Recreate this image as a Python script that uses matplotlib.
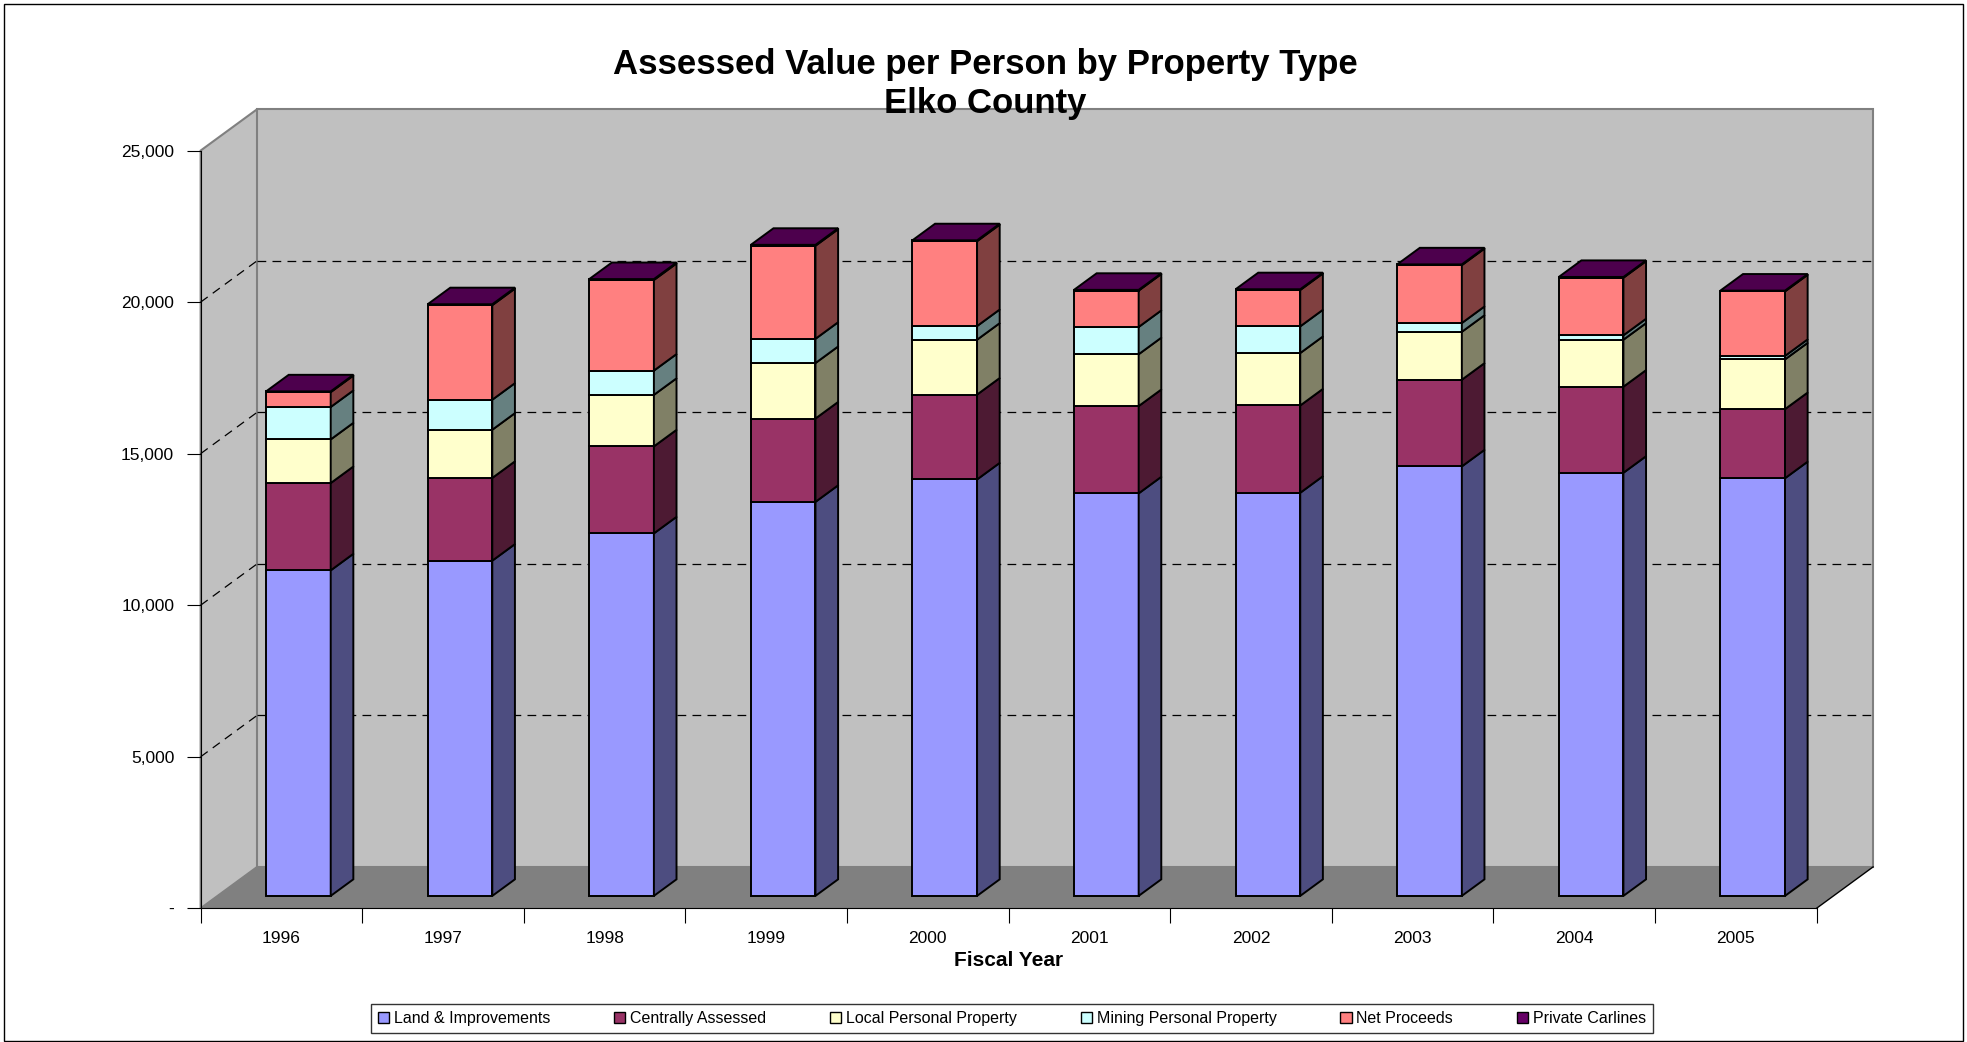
import numpy as np
import matplotlib.pyplot as plt
from matplotlib.patches import Polygon, Patch, Rectangle
from matplotlib.colors import to_rgb

plt.rcParams['font.family'] = ['Liberation Sans', 'DejaVu Sans']

# assessed value per person, by fiscal year
years = ['1996', '1997', '1998', '1999', '2000', '2001', '2002', '2003', '2004', '2005']
land = [10740, 11060, 11960, 13000, 13740, 13280, 13300, 14170, 13960, 13780]
central = [2880, 2730, 2870, 2750, 2800, 2880, 2880, 2860, 2840, 2280]
local_pp = [1440, 1590, 1700, 1830, 1810, 1710, 1730, 1580, 1550, 1640]
mining_pp = [1070, 990, 800, 800, 450, 900, 880, 290, 145, 115]
net_proceeds = [490, 3120, 2990, 3070, 2800, 1200, 1200, 1910, 1900, 2130]
carlines = [25, 30, 30, 30, 30, 25, 25, 25, 25, 25]

labels = ['Land & Improvements', 'Centrally Assessed', 'Local Personal Property',
          'Mining Personal Property', 'Net Proceeds', 'Private Carlines']
colors = ['#9999FF', '#993366', '#FFFFCC', '#CCFFFF', '#FF8080', '#660066']
data = [land, central, local_pp, mining_pp, net_proceeds, carlines]

ymax = 25000
dx, dy = 0.35, 1366      # depth of the box, in x units / value units
d0, d1 = 0.3, 0.7        # bars sit between these depth fractions
bw = 0.4


def shade(c, f):
    return tuple(np.array(to_rgb(c)) * f)


fig = plt.figure(figsize=(19.67, 10.42), dpi=100)
ax = fig.add_axes([0.1020, 0.1283, 0.8215, 0.7272])
ax.set_facecolor('none')
n = len(years)
x = np.arange(n) + 0.5

# walls and floor
ax.add_patch(Polygon([(0, 0), (0, ymax), (dx, ymax + dy), (dx, dy)], closed=True,
                     fc='#C0C0C0', ec='#808080', lw=1.5, clip_on=False, zorder=0))
ax.add_patch(Rectangle((dx, dy), n, ymax, fc='#C0C0C0', ec='#808080', lw=1.5,
                       clip_on=False, zorder=0))
ax.add_patch(Polygon([(0, 0), (dx, dy), (n + dx, dy), (n, 0)], closed=True,
                     fc='#808080', ec='none', clip_on=False, zorder=0.5))
ax.plot([n, n + dx], [0, dy], color='black', lw=1, clip_on=False, zorder=1)

# dashed gridlines on the side and back walls
for v in [5000, 10000, 15000, 20000]:
    ax.plot([dx, n + dx], [v + dy, v + dy], color='black', lw=0.9,
            ls=(0, (7, 5)), clip_on=False, zorder=1)
    ax.plot([0, dx], [v, v + dy], color='black', lw=0.9,
            ls=(0, (7, 5)), clip_on=False, zorder=1)

# stacked boxes: front faces via bar, side and top faces as polygons
base = np.zeros(n)
for vals, col in zip(data, colors):
    vals = np.array(vals, dtype=float)
    ax.bar(x + d0 * dx, vals, bw, bottom=base + d0 * dy, color=col,
           edgecolor='black', lw=1.4, zorder=3, clip_on=False)
    for i in range(n):
        xr = x[i] + bw / 2 + d0 * dx
        y0, y1 = base[i], base[i] + vals[i]
        side = [(xr, y0 + d0 * dy), (xr + (d1 - d0) * dx, y0 + d1 * dy),
                (xr + (d1 - d0) * dx, y1 + d1 * dy), (xr, y1 + d0 * dy)]
        ax.add_patch(Polygon(side, closed=True, fc=shade(col, 0.5), ec='black',
                             lw=1.4, zorder=3, clip_on=False))
    base = base + vals

for i in range(n):
    xl = x[i] - bw / 2 + d0 * dx
    xr = x[i] + bw / 2 + d0 * dx
    t = base[i]
    top = [(xl, t + d0 * dy), (xr, t + d0 * dy),
           (xr + (d1 - d0) * dx, t + d1 * dy), (xl + (d1 - d0) * dx, t + d1 * dy)]
    ax.add_patch(Polygon(top, closed=True, fc=shade(colors[-1], 0.75), ec='black',
                         lw=1.4, zorder=3, clip_on=False))

ax.set_xlim(0, n)
ax.set_ylim(0, ymax)
for s in ['top', 'right']:
    ax.spines[s].set_visible(False)
ax.spines['left'].set_color('black')
ax.spines['bottom'].set_color('black')
ax.spines['left'].set_zorder(4)
ax.spines['bottom'].set_zorder(4)

ax.set_yticks(np.arange(0, ymax + 1, 5000))
ax.set_yticklabels(['-' if v == 0 else f'{v:,}' for v in range(0, ymax + 1, 5000)],
                   fontsize=12.5)
ax.tick_params(axis='y', length=10, pad=9)
ax.set_xticks(np.arange(n + 1))
ax.set_xticklabels([])
ax.set_xticks(x, minor=True)
ax.set_xticklabels(years, minor=True, fontsize=12.5)
ax.tick_params(axis='x', which='major', length=11)
ax.tick_params(axis='x', which='minor', length=0, pad=16)
ax.set_xlabel('Fiscal Year', fontsize=15, fontweight='bold', labelpad=4)

fig.text(985 / 1967, 1 - 84 / 1042, 'Assessed Value per Person by Property Type\nElko County',
         ha='center', va='center', fontsize=25, fontweight='bold', linespacing=1.2)

handles = [Patch(facecolor=c, edgecolor='black', lw=1) for c in colors]
leg = fig.legend(handles, labels, loc='center', bbox_to_anchor=(1012 / 1967, 1 - 1018.5 / 1042),
                 ncol=6, fontsize=11.5, frameon=True, fancybox=False, edgecolor='black',
                 handlelength=0.7, handleheight=0.7, handletextpad=0.3, columnspacing=4.0,
                 borderpad=0.45)
leg.get_frame().set_linewidth(1)

fig.patches.append(Rectangle((4 / 1967, 1 / 1042), 1959 / 1967, 1037 / 1042,
                             transform=fig.transFigure, fill=False, ec='black', lw=1))

fig.savefig('out.png', dpi=100)
